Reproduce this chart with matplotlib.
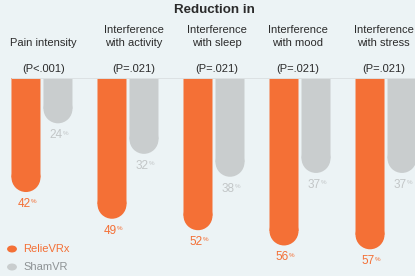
"""Reduction in pain / interference: RelieVRx vs ShamVR, hanging rounded bars"""
import matplotlib
matplotlib.use("Agg")
import matplotlib.pyplot as plt
from matplotlib.patches import Ellipse

categories = ["Pain intensity", "Interference\nwith activity", "Interference\nwith sleep",
              "Interference\nwith mood", "Interference\nwith stress"]
p_values   = ["(P<.001)", "(P=.021)", "(P=.021)", "(P=.021)", "(P=.021)"]
relievrx   = [42, 49, 52, 56, 57]
shamvr     = [24, 32, 38, 37, 37]
series     = ["RelieVRx", "ShamVR"]

ORANGE = "#F47036"
GRAY   = "#C9CDCE"
BG     = "#ECF3F5"
TXT    = "#2B2B2B"

plt.rcParams["font.family"] = ["Liberation Sans", "DejaVu Sans"]

W, H, DPI = 4.15, 2.76, 100
fig = plt.figure(figsize=(W, H), dpi=DPI, facecolor=BG)

# bars hang down from the baseline at y = 77.5 px
base_px = 77.5
XL, YL = (-0.488, 4.337), (64, 12)
ax = fig.add_axes([0, 0, 1, 1 - base_px / (H * DPI)])
ax.set_facecolor(BG)
ax.set_xlim(*XL)
ax.set_ylim(*YL)
ax.axis("off")

# pixel scales so the bottom caps come out as half circles
px_x = W * DPI / (XL[1] - XL[0])
px_y = (H * DPI - base_px) / (YL[0] - YL[1])
bar_w  = 29 / px_x
offset = 16 / px_x
r_dat  = (bar_w / 2) * px_x / px_y

for vals, col, sign, tcol in [(relievrx, ORANGE, -1, ORANGE), (shamvr, GRAY, 1, "#C2C6C7")]:
    for i, v in enumerate(vals):
        x = i + sign * offset
        ax.bar(x, v - r_dat, width=bar_w, bottom=0, color=col, linewidth=0, snap=False)
        ax.add_patch(Ellipse((x, v - r_dat), bar_w, 2 * r_dat, facecolor=col,
                             edgecolor="none", snap=False))
        ax.annotate(str(v), xy=(x, v), xytext=(3.2, -8.5), textcoords="offset points",
                    ha="right", va="center", fontsize=8.5, color=tcol)
        ax.annotate("%", xy=(x, v), xytext=(3.6, -7.0), textcoords="offset points",
                    ha="left", va="center", fontsize=4.5, color=tcol)

# baseline
fig.add_artist(plt.Line2D([12 / (W * DPI), 1], [1 - base_px / (H * DPI)] * 2,
                          color="#DCE1E3", linewidth=0.7))

# header
fig.text(214.5 / (W * DPI), 1 - 10 / (H * DPI), "Reduction in", ha="center", va="center",
         fontsize=9.6, fontweight="bold", color=TXT)
label_x = [43.5, 134, 216.5, 298, 383.5]
for lx, cat, p in zip(label_x, categories, p_values):
    fx = lx / (W * DPI)
    fig.text(fx, 1 - 47.5 / (H * DPI), cat, ha="center", va="bottom", fontsize=8,
             color=TXT, linespacing=1.35)
    fig.text(fx, 1 - 68.5 / (H * DPI), p, ha="center", va="center", fontsize=8, color=TXT)

# legend
for name, col, tcol, ypx in [(series[0], ORANGE, ORANGE, 249), (series[1], GRAY, "#8E9395", 267)]:
    fy = 1 - ypx / (H * DPI)
    fig.add_artist(plt.Circle((12 / (W * DPI), fy), 4.2 / (W * DPI), color=col,
                              transform=fig.transFigure))
    fig.text(23 / (W * DPI), fy, name, ha="left", va="center", fontsize=8, color=tcol)

fig.savefig("out.png", dpi=DPI, facecolor=BG)
